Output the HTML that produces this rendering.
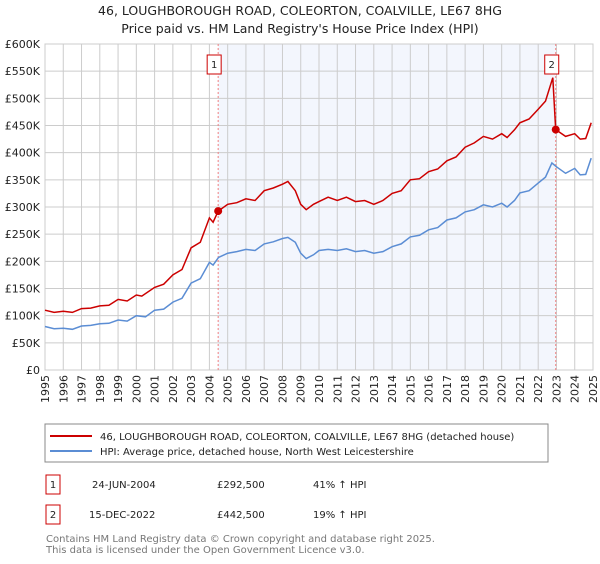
<!DOCTYPE html>
<html><head><meta charset="utf-8">
<style>
body{margin:0;background:#fff;width:600px;height:560px;overflow:hidden;font-family:"DejaVu Sans","Liberation Sans",sans-serif;}
svg text{font-family:"DejaVu Sans","Liberation Sans",sans-serif;}
</style></head>
<body>
<svg id="chart" width="600" height="560" xmlns="http://www.w3.org/2000/svg">
<text x="300" y="15" text-anchor="middle" font-size="12.5" fill="#222">46, LOUGHBOROUGH ROAD, COLEORTON, COALVILLE, LE67 8HG</text>
<text x="300" y="33" text-anchor="middle" font-size="12.5" fill="#222">Price paid vs. HM Land Registry's House Price Index (HPI)</text>
<g id="grid"></g>
<g id="series"></g>
<g id="axes"></g>
<rect x="45" y="424" width="503" height="38" fill="#fff" stroke="#888"/>
<line x1="50" y1="436" x2="92" y2="436" stroke="#cc0000" stroke-width="2"/>
<text x="100" y="440" font-size="10" fill="#222">46, LOUGHBOROUGH ROAD, COLEORTON, COALVILLE, LE67 8HG (detached house)</text>
<line x1="50" y1="451" x2="92" y2="451" stroke="#5b8dd4" stroke-width="2"/>
<text x="100" y="455" font-size="10" fill="#222">HPI: Average price, detached house, North West Leicestershire</text>
<rect x="46" y="475" width="14" height="19" fill="#fff" stroke="#cc0000"/>
<text x="53" y="488" text-anchor="middle" font-size="10" fill="#222">1</text>
<text x="92" y="488" font-size="10" fill="#222">24-JUN-2004</text>
<text x="217" y="488" font-size="10" fill="#222">£292,500</text>
<text x="313" y="488" font-size="10" fill="#222">41% ↑ HPI</text>
<rect x="46" y="505" width="14" height="19" fill="#fff" stroke="#cc0000"/>
<text x="53" y="518" text-anchor="middle" font-size="10" fill="#222">2</text>
<text x="89" y="518" font-size="10" fill="#222">15-DEC-2022</text>
<text x="217" y="518" font-size="10" fill="#222">£442,500</text>
<text x="313" y="518" font-size="10" fill="#222">19% ↑ HPI</text>
<text x="46" y="542" font-size="10" fill="#777">Contains HM Land Registry data © Crown copyright and database right 2025.</text>
<text x="46" y="553" font-size="10" fill="#777">This data is licensed under the Open Government Licence v3.0.</text>
</svg>
<script>
const hpiYears=[1995,1995.5,1996,1996.5,1997,1997.5,1998,1998.5,1999,1999.5,2000,2000.5,2001,2001.5,2002,2002.5,2003,2003.5,2004,2004.2,2004.5,2005,2005.5,2006,2006.5,2007,2007.5,2008,2008.3,2008.7,2009,2009.3,2009.7,2010,2010.5,2011,2011.5,2012,2012.5,2013,2013.5,2014,2014.5,2015,2015.5,2016,2016.5,2017,2017.5,2018,2018.5,2019,2019.5,2020,2020.3,2020.7,2021,2021.5,2022,2022.4,2022.75,2023,2023.5,2024,2024.3,2024.6,2024.9];
const hpiValues=[80,76,77,75,81,82,85,86,92,90,100,98,110,112,125,132,160,168,198,193,207,215,218,222,220,232,236,242,244,235,215,205,212,220,222,220,223,218,220,215,218,227,232,245,248,258,262,276,280,291,295,304,300,307,300,312,326,330,344,355,381,374,362,371,359,360,390];
const saleYears=[1995,1995.5,1996,1996.5,1997,1997.5,1998,1998.5,1999,1999.5,2000,2000.3,2001,2001.5,2002,2002.5,2003,2003.5,2004,2004.2,2004.48,2005,2005.5,2006,2006.5,2007,2007.5,2008,2008.3,2008.7,2009,2009.3,2009.7,2010,2010.5,2011,2011.5,2012,2012.5,2013,2013.5,2014,2014.5,2015,2015.5,2016,2016.5,2017,2017.5,2018,2018.5,2019,2019.5,2020,2020.3,2020.7,2021,2021.5,2022,2022.4,2022.8,2022.96,2023.5,2024,2024.3,2024.6,2024.9];
const saleValues=[110,106,108,106,113,114,118,119,130,127,138,136,152,158,175,185,225,235,280,272,292.5,305,308,315,312,330,335,342,347,330,305,295,305,310,318,312,318,310,312,305,312,325,330,350,352,365,370,385,392,410,418,430,425,435,428,442,455,462,480,495,538,442.5,430,435,425,426,455];
const sales=[{label:"1",year:2004.48,value:292.5},{label:"2",year:2022.96,value:442.5}];
const yTicks=[0,50,100,150,200,250,300,350,400,450,500,550,600];
const xTicks=[1995,1996,1997,1998,1999,2000,2001,2002,2003,2004,2005,2006,2007,2008,2009,2010,2011,2012,2013,2014,2015,2016,2017,2018,2019,2020,2021,2022,2023,2024,2025];
const X0=45,X1=593,Y0=370,Y1=44;
const xs=y=>X0+(y-1995)/30*(X1-X0);
const ys=v=>Y0-v/600*(Y0-Y1);
const NS="http://www.w3.org/2000/svg";
function mk(tag,attrs,parent){const e=document.createElementNS(NS,tag);for(const k in attrs)e.setAttribute(k,attrs[k]);parent.appendChild(e);return e;}
const grid=document.getElementById('grid'),ser=document.getElementById('series'),axes=document.getElementById('axes');
let r=mk('rect',{x:xs(sales[0].year),y:Y1,width:xs(sales[1].year)-xs(sales[0].year),height:Y0-Y1,fill:'#f3f6fd'},grid);


yTicks.forEach(t=>{
 const l=mk('line',{x1:X0,x2:X1,y1:ys(t),y2:ys(t),stroke:'#cccccc','stroke-width':1},grid);
 
 
 const tx=mk('text',{x:40,y:ys(t)+4,'text-anchor':'end','font-size':11,fill:'#222'},axes);
 tx.textContent=t===0?'£0':'£'+t+'K';
 
 
});
xTicks.forEach(t=>{
 const l=mk('line',{x1:xs(t),x2:xs(t),y1:Y1,y2:Y0,stroke:'#cccccc','stroke-width':1},grid);
 
 
 const tx=mk('text',{x:0,y:0,'text-anchor':'end','font-size':11,fill:'#222',transform:`translate(${xs(t)+4},${Y0+5}) rotate(-90)`},axes);
 tx.textContent=t;
 
 
});
const ab=mk('rect',{x:X0,y:Y1,width:X1-X0,height:Y0-Y1,fill:'none',stroke:'#cccccc'},grid);


sales.forEach(s=>{
 const l=mk('line',{x1:xs(s.year),x2:xs(s.year),y1:Y1,y2:Y0,stroke:'#f08080','stroke-dasharray':'2,2','stroke-width':1},ser);
 
 
});
const hp=mk('path',{d:hpiYears.map((y,i)=>(i?'L':'M')+xs(y).toFixed(1)+','+ys(hpiValues[i]).toFixed(1)).join(''),fill:'none',stroke:'#5b8dd4','stroke-width':1.5},ser);


const pp=mk('path',{d:saleYears.map((y,i)=>(i?'L':'M')+xs(y).toFixed(1)+','+ys(saleValues[i]).toFixed(1)).join(''),fill:'none',stroke:'#cc0000','stroke-width':1.5},ser);


sales.forEach(s=>{
 const c=mk('circle',{cx:xs(s.year),cy:ys(s.value),r:4,fill:'#cc0000'},ser);
 
 
 const b=mk('rect',{x:xs(s.year)-11,y:55,width:14,height:19,fill:'#fff',stroke:'#cc0000'},ser);
 
 
 const t=mk('text',{x:xs(s.year)-4,y:68,'text-anchor':'middle','font-size':10,fill:'#222'},ser);
 t.textContent=s.label;
 
 
});
</script>
</body></html>
